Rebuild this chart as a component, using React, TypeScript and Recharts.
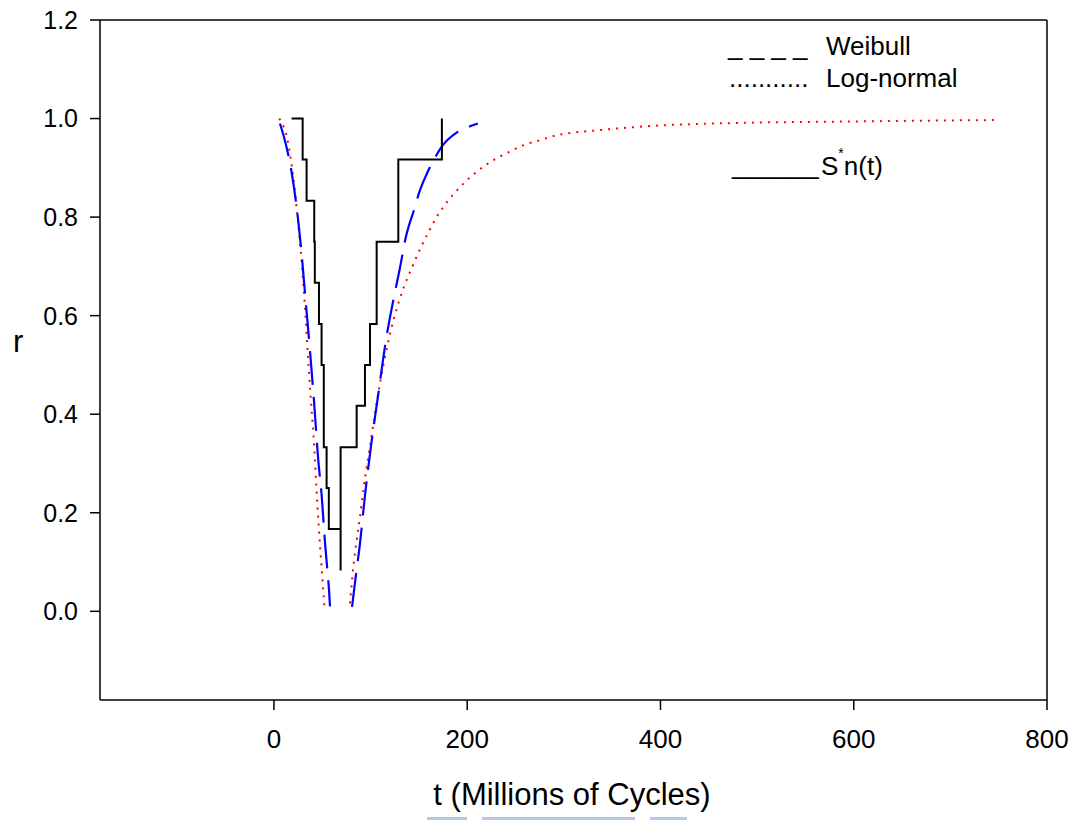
import React from 'react';
import { LineChart, Line, XAxis, YAxis, ReferenceLine } from 'recharts';

// ---- Data ----
const xTicks = [0, 200, 400, 600, 800];
const yTicks = [0, 0.2, 0.4, 0.6, 0.8, 1.0, 1.2];

// Weibull (blue dashed), two branches
const weibullLeftT = [6.2, 11.4, 18.3, 23.5, 28.6, 33.1, 37.3, 41.4, 45.9, 49.4, 52.8, 55.0, 57.0, 58.0];
const weibullLeftR = [0.99, 0.955, 0.891, 0.82, 0.726, 0.624, 0.529, 0.428, 0.306, 0.235, 0.141, 0.09, 0.043, 0.01];
const weibullRightT = [80.8, 84.6, 89.0, 94.2, 100.3, 108, 115.9, 123.5, 130.5, 136, 146, 150, 158, 166.2, 174.8, 188.7, 200, 211];
const weibullRightR = [0.009, 0.07, 0.137, 0.235, 0.333, 0.441, 0.55, 0.631, 0.698, 0.755, 0.821, 0.848, 0.887, 0.919, 0.946, 0.971, 0.982, 0.99];

// Log-normal (red dotted), two branches
const lognormLeftT = [5.5, 14.8, 20, 24.1, 28.6, 32.1, 35.5, 39, 41.4, 43.7, 46.4, 48.8, 52.3];
const lognormLeftR = [1.0, 0.949, 0.881, 0.807, 0.712, 0.617, 0.509, 0.408, 0.343, 0.26, 0.171, 0.103, 0.009];
const lognormRightT = [78.7, 81.4, 85.6, 89, 93.2, 99.4, 109.7, 120.1, 130.4, 144.9, 151.4, 159.3, 168, 179.3, 193.1, 209.3, 225.6, 242.1, 258.4, 275, 290.5, 340, 400, 478, 593, 750];
const lognormRightR = [0.016, 0.076, 0.144, 0.191, 0.256, 0.335, 0.462, 0.563, 0.635, 0.707, 0.736, 0.767, 0.799, 0.831, 0.862, 0.891, 0.914, 0.931, 0.946, 0.956, 0.965, 0.977, 0.986, 0.991, 0.994, 0.997];

// Empirical S*n(t) staircase (black)
const snT = [18.3, 29.7, 29.7, 33.8, 33.8, 41.7, 41.7, 42.3, 42.3, 46.6, 46.6, 49.3, 49.3, 51.6, 51.6, 54.5, 54.5, 56.8, 56.8, 69, 69, 69, 85.6, 85.6, 94.2, 94.2, 99.4, 99.4, 106.3, 106.3, 128.7, 128.7, 173.8, 173.8];
const snR = [1, 1, 0.917, 0.917, 0.833, 0.833, 0.75, 0.75, 0.667, 0.667, 0.583, 0.583, 0.5, 0.5, 0.333, 0.333, 0.25, 0.25, 0.167, 0.167, 0.083, 0.333, 0.333, 0.417, 0.417, 0.5, 0.5, 0.583, 0.583, 0.75, 0.75, 0.917, 0.917, 1];

const zip = (ts: number[], rs: number[]) => ts.map((t, i) => ({ t, r: rs[i] }));

const weibullLeft = zip(weibullLeftT, weibullLeftR);
const weibullRight = zip(weibullRightT, weibullRightR);
const lognormLeft = zip(lognormLeftT, lognormLeftR);
const lognormRight = zip(lognormRightT, lognormRightR);
const snData = zip(snT, snR);

const FONT = 'Liberation Sans, Arial, Helvetica, sans-serif';
const axisStyle = { stroke: '#000', strokeWidth: 1.5 };

export default function App() {
  return (
    <div style={{ position: 'absolute', left: 0, top: 0, width: 1075, height: 820, background: '#fff' }}>
      <LineChart width={1075} height={820} margin={{ top: 20, right: 28, bottom: 80, left: 0 }}>
        <XAxis
          type="number"
          dataKey="t"
          domain={[-180, 800]}
          ticks={xTicks}
          height={40}
          tickSize={10}
          tickMargin={20}
          axisLine={axisStyle}
          tickLine={axisStyle}
          tick={{ fill: '#000', fontSize: 26, fontFamily: FONT }}
          allowDataOverflow
        />
        <YAxis
          type="number"
          domain={[-0.18, 1.2]}
          ticks={yTicks}
          width={100}
          tickSize={10}
          tickMargin={12}
          axisLine={axisStyle}
          tickLine={axisStyle}
          tickFormatter={(v: number) => v.toFixed(1)}
          tick={{ fill: '#000', fontSize: 25, fontFamily: FONT }}
          allowDataOverflow
        />
        <ReferenceLine y={1.2} stroke="#000" strokeWidth={1.5} />
        <ReferenceLine x={800} stroke="#000" strokeWidth={1.5} />
        <Line data={lognormLeft} dataKey="r" type="monotone" stroke="#ff0000" strokeWidth={2} strokeDasharray="2 6" dot={false} isAnimationActive={false} />
        <Line data={lognormRight} dataKey="r" type="monotone" stroke="#ff0000" strokeWidth={2} strokeDasharray="2 6" dot={false} isAnimationActive={false} />
        <Line data={weibullLeft} dataKey="r" type="monotone" stroke="#0000ff" strokeWidth={2.2} strokeDasharray="34 12" dot={false} isAnimationActive={false} />
        <Line data={weibullRight} dataKey="r" type="monotone" stroke="#0000ff" strokeWidth={2.2} strokeDasharray="34 12" dot={false} isAnimationActive={false} />
        <Line data={snData} dataKey="r" type="linear" stroke="#000" strokeWidth={2} dot={false} isAnimationActive={false} />
      </LineChart>
      <svg width={1075} height={820} style={{ position: 'absolute', left: 0, top: 0, pointerEvents: 'none' }}>
        <g fontFamily={FONT} fill="#000">
          <text x={728} y={55} fontSize={26}>_ _ _ _</text>
          <text x={826} y={55} fontSize={26}>Weibull</text>
          <text x={729} y={87} fontSize={26}>...........</text>
          <text x={826} y={87} fontSize={26}>Log-normal</text>
          <text x={732} y={174} fontSize={26}>______</text>
          <text x={821} y={175} fontSize={26}>
            S<tspan dy={-17} fontSize={14}>*</tspan><tspan dy={17}>n(t)</tspan>
          </text>
          <text x={572} y={805} fontSize={31} textAnchor="middle">t (Millions of Cycles)</text>
          <text x={13} y={352} fontSize={31}>r</text>
        </g>
        <g fill="#b7c3f2">
          <rect x={427} y={817} width={40} height={3} />
          <rect x={482} y={817} width={153} height={3} />
          <rect x={650} y={817} width={37} height={3} />
        </g>
      </svg>
    </div>
  );
}
